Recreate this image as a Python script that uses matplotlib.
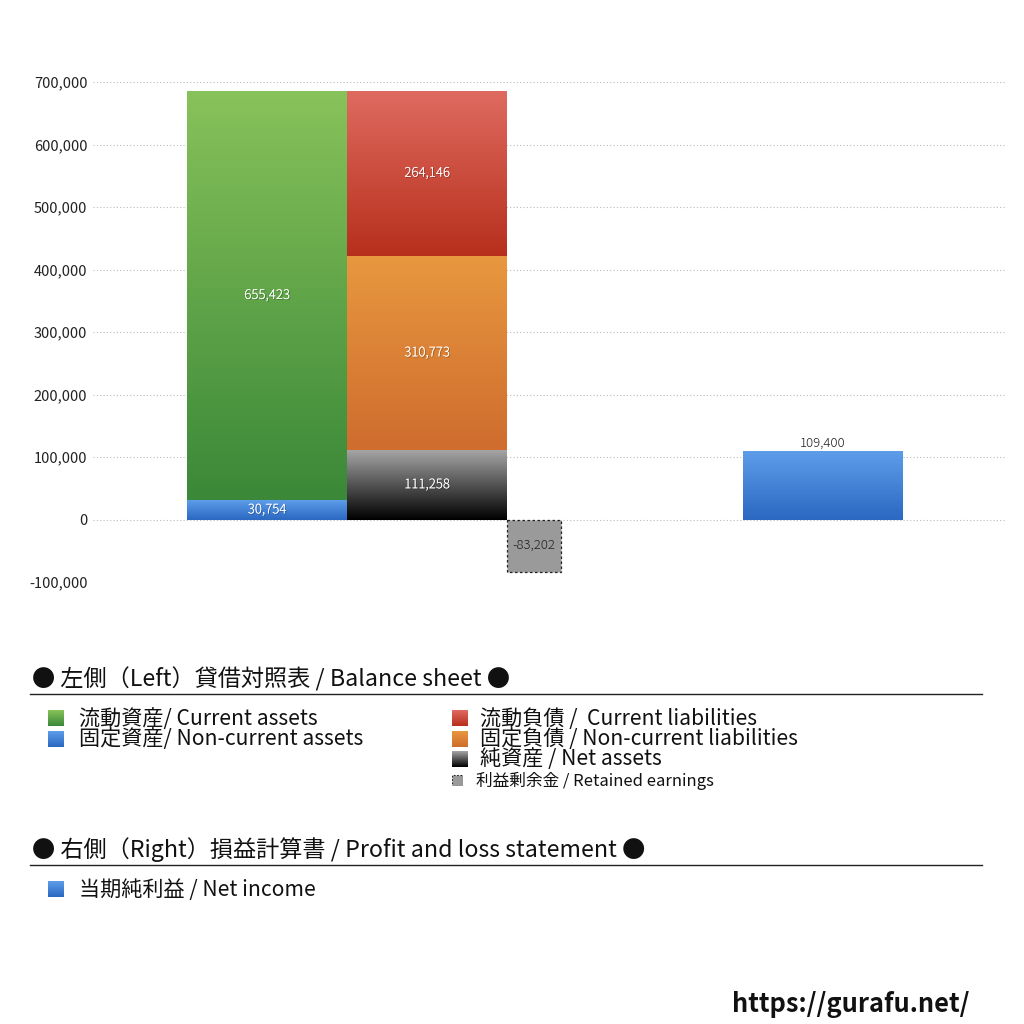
import numpy as np
import matplotlib
matplotlib.use("Agg")
import matplotlib.pyplot as plt
import matplotlib.patheffects as pe
from matplotlib.colors import LinearSegmentedColormap

plt.rcParams['font.family'] = ['Noto Sans CJK JP', 'DejaVu Sans']

# --- data ---
current_assets = 655423
noncurrent_assets = 30754
current_liab = 264146
noncurrent_liab = 310773
net_assets = 111258
retained_earnings = -83202
net_income = 109400

y_ticks = [-100000, 0, 100000, 200000, 300000, 400000, 500000, 600000, 700000]

# gradient colours (top, bottom)
grad = {
    'green': ('#88c25a', '#3a8838'),
    'blue': ('#5e9de9', '#2a68c2'),
    'red': ('#df6b60', '#b72f1c'),
    'orange': ('#e8983f', '#cf6c2e'),
    'black': ('#a5a5a5', '#000000'),
}


def fill_gradient(ax, patch, top, bottom):
    x0, y0 = patch.get_x(), patch.get_y()
    w, h = patch.get_width(), patch.get_height()
    cmap = LinearSegmentedColormap.from_list('g', [bottom, top])
    img = np.linspace(0, 1, 256).reshape(-1, 1)
    im = ax.imshow(img, cmap=cmap, origin='lower', aspect='auto',
                   extent=[x0, x0 + w, min(y0, y0 + h), max(y0, y0 + h)],
                   zorder=3)
    im.set_clip_path(patch)
    patch.set_facecolor('none')


fig = plt.figure(figsize=(10.24, 10.24), dpi=100)
ax = fig.add_axes([0.0908, 0.4316, 0.8906, 0.4883])

shadow = [pe.withSimplePatchShadow(offset=(0.7, -0.7), shadow_rgbFace='black', alpha=0.3),
          pe.Normal()]

# left column: assets
b_nca = ax.bar(0, noncurrent_assets, width=1, align='edge', linewidth=0, zorder=3)[0]
b_ca = ax.bar(0, current_assets, bottom=noncurrent_assets, width=1, align='edge',
              linewidth=0, zorder=3)[0]
fill_gradient(ax, b_nca, *grad['blue'])
fill_gradient(ax, b_ca, *grad['green'])

# right column: liabilities + net assets
b_na = ax.bar(1, net_assets, width=1, align='edge', linewidth=0, zorder=3)[0]
b_ncl = ax.bar(1, noncurrent_liab, bottom=net_assets, width=1, align='edge',
               linewidth=0, zorder=3)[0]
b_cl = ax.bar(1, current_liab, bottom=net_assets + noncurrent_liab, width=1,
              align='edge', linewidth=0, zorder=3)[0]
fill_gradient(ax, b_na, *grad['black'])
fill_gradient(ax, b_ncl, *grad['orange'])
fill_gradient(ax, b_cl, *grad['red'])

# retained earnings
b_re = ax.bar(2, retained_earnings, width=0.3375, align='edge', color='#9a9a9a',
              edgecolor='#222222', linewidth=0.9, linestyle=(0, (2, 2)), zorder=3)[0]

# net income
b_ni = ax.bar(3.475, net_income, width=1, align='edge', linewidth=0, zorder=3)[0]
fill_gradient(ax, b_ni, *grad['blue'])

# labels (centred in each segment)
def lab(patch, color='white', fx=True, above=False):
    x = patch.get_x() + patch.get_width() / 2
    v = patch.get_height()
    y = patch.get_y() + v / 2
    if above:
        y = patch.get_y() + v + 12000
    t = ax.text(x, y, f"{int(round(v)):,}", ha='center', va='center', fontsize=9.5,
                color=color, zorder=5, fontweight='light')
    if fx:
        t.set_path_effects(shadow)

for p in (b_nca, b_ca, b_na, b_ncl, b_cl):
    lab(p)
lab(b_re, color='#222222', fx=False)
lab(b_ni, color='#222222', fx=False, above=True)

ax.set_xlim(-0.5875, 5.1125)
ax.set_ylim(-100000, 700000)
ax.set_yticks(y_ticks)
ax.set_yticklabels([f"{v:,}" for v in y_ticks], fontsize=10.5, color='#222222')
ax.set_xticks([])
ax.tick_params(axis='y', length=0, pad=4)
ax.grid(axis='y', linestyle=(0, (1, 2)), color='#bbbbbb', linewidth=0.8, zorder=0)
for s in ax.spines.values():
    s.set_visible(False)

# --- legend area ---
def px(x, y):
    return x / 1024, 1 - y / 1024

def square(x, y, size, top, bottom, dashed=False):
    x0, y0 = px(x, y + size)
    lax = fig.add_axes([x0, y0, size / 1024, size / 1024])
    lax.set_xlim(0, 1)
    lax.set_ylim(0, 1)
    lax.axis('off')
    if dashed:
        lax.add_patch(plt.Rectangle((0, 0), 1, 1, facecolor='#9a9a9a', edgecolor='#222222',
                                    linewidth=0.8, linestyle=(0, (1.5, 1.5))))
    else:
        cmap = LinearSegmentedColormap.from_list('g', [bottom, top])
        lax.imshow(np.linspace(0, 1, 64).reshape(-1, 1), cmap=cmap, origin='lower',
                   aspect='auto', extent=[0, 1, 0, 1])

fig.text(*px(32, 679), "● 左側（Left）貸借対照表 / Balance sheet ●", fontsize=16.7,
         va='center', color='#111111')
fig.add_artist(plt.Line2D([30 / 1024, 982 / 1024], [1 - 694 / 1024] * 2, color='#222222',
                          linewidth=1))

square(48, 710, 16, *grad['green'])
fig.text(*px(79, 719), "流動資産/ Current assets", fontsize=15.2, va='center', color='#111111')
square(48, 731, 16, *grad['blue'])
fig.text(*px(79, 739), "固定資産/ Non-current assets", fontsize=15.2, va='center', color='#111111')

square(452, 710, 16, *grad['red'])
fig.text(*px(480, 719), "流動負債 /  Current liabilities", fontsize=15.2, va='center', color='#111111')
square(452, 731, 16, *grad['orange'])
fig.text(*px(480, 739), "固定負債 / Non-current liabilities", fontsize=15.2, va='center', color='#111111')
square(452, 751, 16, *grad['black'])
fig.text(*px(480, 759), "純資産 / Net assets", fontsize=15.2, va='center', color='#111111')
square(452, 775, 11, None, None, dashed=True)
fig.text(*px(476, 781), "利益剰余金 / Retained earnings", fontsize=12, va='center', color='#111111')

fig.text(*px(32, 850), "● 右側（Right）損益計算書 / Profit and loss statement ●", fontsize=16.7,
         va='center', color='#111111')
fig.add_artist(plt.Line2D([30 / 1024, 982 / 1024], [1 - 865 / 1024] * 2, color='#222222',
                          linewidth=1))
square(48, 881, 16, *grad['blue'])
fig.text(*px(79, 890), "当期純利益 / Net income", fontsize=15.2, va='center', color='#111111')

fig.text(*px(970, 1004), "https://gurafu.net/", fontsize=18.3, fontweight='bold',
         ha='right', va='center', color='#111111')

fig.savefig("out.png", dpi=100)
